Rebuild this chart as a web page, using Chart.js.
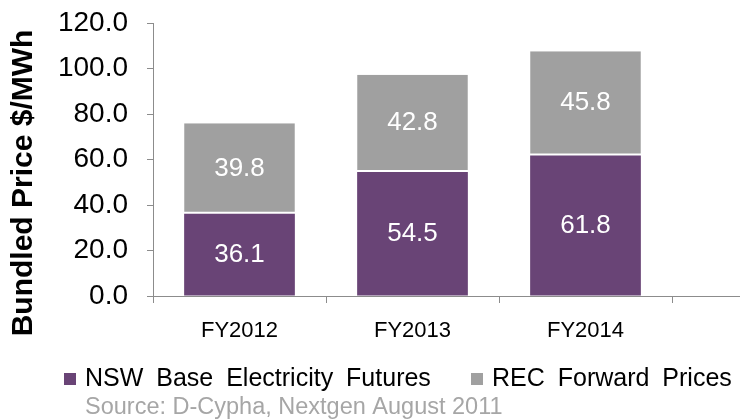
<!DOCTYPE html>
<html>
<head>
<meta charset="utf-8">
<script src="https://cdn.jsdelivr.net/npm/chart.js@4.4.0/dist/chart.umd.min.js"></script>
<style>
  html, body { margin: 0; padding: 0; background: #fff; }
  #wrap { width: 740px; height: 419px; }
</style>
</head>
<body>
<div id="wrap"><canvas id="chart" width="740" height="419"></canvas></div>
<script>
const categories = ["FY2012", "FY2013", "FY2014"];
const nswFutures = [36.1, 54.5, 61.8];
const recForward = [39.8, 42.8, 45.8];
const seriesNames = ["NSW Base Electricity Futures", "REC Forward Prices"];
const axisTitle = "Bundled Price $/MWh";
const sourceNote = "Source: D-Cypha, Nextgen August 2011";

const purple = "#694476";
const grey = "#a0a0a0";
const axisGrey = "#8c8c8c";
const font = "'Liberation Sans', Arial, sans-serif";

// white figures in the middle of each segment
const barValues = {
    id: "barValues",
    afterDatasetsDraw(chart) {
        const ctx = chart.ctx;
        ctx.save();
        ctx.fillStyle = "#fff";
        ctx.font = `26px ${font}`;
        ctx.textAlign = "center";
        ctx.textBaseline = "middle";
        chart.data.datasets.forEach((ds, i) => {
            chart.getDatasetMeta(i).data.forEach((bar, j) => {
                ctx.fillText(ds.data[j].toFixed(1), bar.x, (bar.y + bar.base) / 2);
            });
        });
        ctx.restore();
    },
};

// axis title, axis tail, legend and source note
const extras = {
    id: "extras",
    afterDraw(chart) {
        const { ctx, chartArea } = chart;
        ctx.save();
        ctx.strokeStyle = axisGrey;
        ctx.lineWidth = 1;
        ctx.beginPath();
        ctx.moveTo(chartArea.right, Math.round(chartArea.bottom) + 0.5);
        ctx.lineTo(chart.width, Math.round(chartArea.bottom) + 0.5);
        ctx.stroke();

        ctx.save();
        ctx.translate(24, 183);
        ctx.rotate(-Math.PI / 2);
        ctx.fillStyle = "#000";
        ctx.font = `bold 30px ${font}`;
        ctx.textAlign = "center";
        ctx.textBaseline = "middle";
        ctx.fillText(axisTitle, 0, 0);
        ctx.restore();

        ctx.textBaseline = "middle";
        ctx.font = `25px ${font}`;
        ctx.wordSpacing = "6px";
        const colors = [purple, grey];
        const boxX = [64, 471];
        seriesNames.forEach((name, i) => {
            ctx.fillStyle = colors[i];
            ctx.fillRect(boxX[i], 373, 12, 12);
            ctx.fillStyle = "#000";
            ctx.fillText(name, boxX[i] + 21, 379);
        });
        ctx.wordSpacing = "0px";

        ctx.fillStyle = "#a6a6a6";
        ctx.font = `23.5px ${font}`;
        ctx.fillText(sourceNote, 85, 408);
        ctx.restore();
    },
};

new Chart(document.getElementById("chart").getContext("2d"), {
    type: "bar",
    data: {
        labels: categories,
        datasets: [
            {
                label: seriesNames[0],
                data: nswFutures,
                backgroundColor: purple,
                borderWidth: 0,
            },
            {
                label: seriesNames[1],
                data: recForward,
                backgroundColor: grey,
                borderColor: "#fff",
                borderWidth: { top: 0, left: 0, right: 0, bottom: 2 },
                borderSkipped: false,
            },
        ],
    },
    options: {
        responsive: false,
        animation: false,
        categoryPercentage: 1,
        barPercentage: 0.64,
        layout: { padding: { left: 0, right: 68, top: 23, bottom: 0 } },
        scales: {
            x: {
                stacked: true,
                grid: {
                    offset: true,
                    drawOnChartArea: false,
                    tickLength: 7,
                    color: (c) => (c.index === categories.length ? "rgba(0,0,0,0)" : axisGrey),
                },
                border: { color: axisGrey },
                ticks: {
                    color: "#000",
                    font: { family: font, size: 22 },
                    padding: 15,
                },
                afterFit: (scale) => {
                    scale.height = 123;
                },
            },
            y: {
                stacked: true,
                min: 0,
                max: 120,
                grid: {
                    drawOnChartArea: false,
                    tickLength: 6,
                    color: axisGrey,
                },
                border: { color: axisGrey },
                ticks: {
                    stepSize: 20,
                    color: "#000",
                    font: { family: font, size: 28 },
                    padding: 19,
                    callback: (v) => v.toFixed(1),
                },
                afterFit: (scale) => {
                    scale.width = 153;
                    scale.paddingTop = 0;
                    scale.paddingBottom = 0;
                },
            },
        },
        plugins: {
            legend: { display: false },
            tooltip: { enabled: false },
        },
    },
    plugins: [barValues, extras],
});
</script>
</body>
</html>
